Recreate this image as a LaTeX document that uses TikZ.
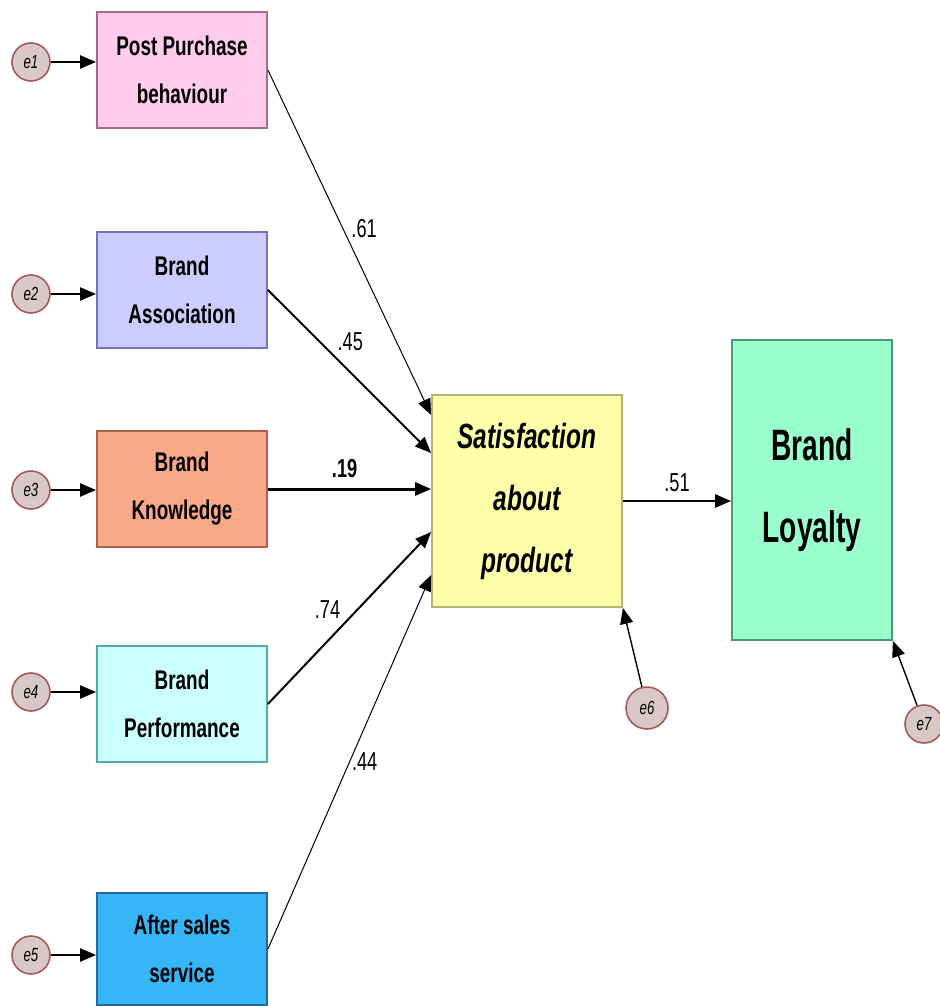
\documentclass[tikz,border=0pt]{standalone}
\usepackage{fontspec}
\setmainfont{Liberation Sans}
\newfontfamily\narrowfont[FakeStretch=0.7]{Liberation Sans}
\newfontfamily\bignarrowfont[FakeStretch=0.64]{Liberation Sans}
\usetikzlibrary{arrows.meta,positioning,calc}
\definecolor{ppfill}{HTML}{FFCCEE}
\definecolor{ppdraw}{HTML}{A86A8C}
\definecolor{bafill}{HTML}{CCCCFF}
\definecolor{badraw}{HTML}{7474B4}
\definecolor{bkfill}{HTML}{F9A888}
\definecolor{bkdraw}{HTML}{A8644A}
\definecolor{bpfill}{HTML}{CCFFFF}
\definecolor{bpdraw}{HTML}{55A8A8}
\definecolor{asfill}{HTML}{36B6F6}
\definecolor{asdraw}{HTML}{24689C}
\definecolor{satfill}{HTML}{FFFFAA}
\definecolor{satdraw}{HTML}{B4B478}
\definecolor{blfill}{HTML}{99FFCC}
\definecolor{bldraw}{HTML}{469A74}
\definecolor{errfill}{HTML}{D9C8C8}
\definecolor{errdraw}{HTML}{A45A5A}

\begin{document}
\begin{tikzpicture}[
    x=0.5pt, y=-0.5pt,
    box/.style={draw, line width=0.9pt, align=center, minimum width=85pt, minimum height=58pt, inner sep=2pt, font=\narrowfont\bfseries\fontsize{13.5}{24}\selectfont},
    err/.style={circle, draw=errdraw, fill=errfill, line width=0.8pt, minimum size=19pt, inner sep=0pt, font=\narrowfont\itshape\fontsize{9.5}{10}\selectfont},
    coef/.style={inner sep=1pt, font=\narrowfont\fontsize{13}{13}\selectfont},
    arrow/.style={-{Triangle[length=8pt, width=6.5pt]}, draw=black}
  ]
    \useasboundingbox (0,0) rectangle (940,1006);

    % observed variables
    \node[box, fill=ppfill, draw=ppdraw] (pp) at (182,70) {Post Purchase\\behaviour};
    \node[box, fill=bafill, draw=badraw] (ba) at (182,290) {Brand\\Association};
    \node[box, fill=bkfill, draw=bkdraw] (bk) at (182,489) {Brand\\Knowledge};
    \node[box, fill=bpfill, draw=bpdraw] (bp) at (182,704) {Brand\\Performance};
    \node[box, fill=asfill, draw=asdraw, minimum height=56pt] (as) at (182,949) {After sales\\service};

    % mediator and outcome
    \node[box, fill=satfill, draw=satdraw, minimum width=95pt, minimum height=106pt, font=\narrowfont\bfseries\itshape\fontsize{17.5}{31}\selectfont] (sat) at (527,501) {Satisfaction\\about\\product};
    \node[box, fill=blfill, draw=bldraw, minimum width=80pt, minimum height=150pt, font=\bignarrowfont\bfseries\fontsize{22}{41}\selectfont] (bl) at (812,490) {Brand\\Loyalty};

    % error terms
    \node[err] (e1) at (31,62) {e1};
    \node[err] (e2) at (31,294) {e2};
    \node[err] (e3) at (31,490) {e3};
    \node[err] (e4) at (31,692) {e4};
    \node[err] (e5) at (31,955) {e5};
    \node[err, minimum size=21pt] (e6) at (647,708) {e6};
    \node[err] (e7) at (924,724) {e7};

    \draw[arrow, line width=1.1pt] (e1) -- (e1 -| pp.west);
    \draw[arrow, line width=1.1pt] (e2) -- (e2 -| ba.west);
    \draw[arrow, line width=1.1pt] (e3) -- (e3 -| bk.west);
    \draw[arrow, line width=1.1pt] (e4) -- (e4 -| bp.west);
    \draw[arrow, line width=1.1pt] (e5) -- (e5 -| as.west);
    \draw[arrow, line width=0.7pt] (e6) -- (sat.south east);
    \draw[arrow, line width=0.7pt] (e7) -- (bl.south east);

    % paths
    \draw[arrow, line width=0.5pt] (pp.east) -- node[coef, pos=0.46, right=3pt] {.61} ($(sat.west)+(0,-86)$);
    \draw[arrow, line width=1pt] (ba.east) -- node[coef, pos=0.4, above right=1pt] {.45} ($(sat.west)+(0,-48)$);
    \draw[arrow, line width=1.5pt] (bk.east) -- node[coef, pos=0.47, above=4pt, font=\narrowfont\bfseries\fontsize{13}{13}\selectfont] {.19} (bk.east -| sat.west);
    \draw[arrow, line width=1pt] (bp.east) -- node[coef, pos=0.47, above left=1pt] {.74} ($(sat.west)+(0,31)$);
    \draw[arrow, line width=0.5pt] (as.east) -- node[coef, pos=0.5, right=0pt] {.44} ($(sat.west)+(0,74)$);
    \draw[arrow, line width=1.4pt] (sat.east) -- node[coef, above=3pt] {.51} (sat.east -| bl.west);
  \end{tikzpicture}
\end{document}
